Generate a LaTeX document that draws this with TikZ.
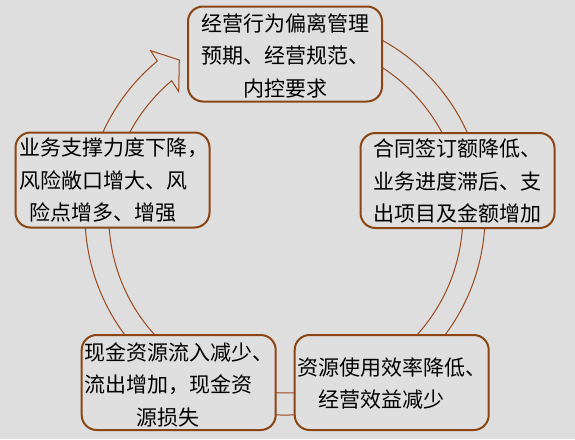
\documentclass[tikz,border=0pt]{standalone}
\usepackage{fontspec}
\newfontfamily\cjkfont{Noto Sans CJK SC}
\usetikzlibrary{calc}
\definecolor{bg}{HTML}{DEDEDE}
\definecolor{boxfill}{HTML}{DFDFDF}
\definecolor{boxbrown}{HTML}{8B4513}
\definecolor{bandbrown}{HTML}{9A4A1C}
\begin{document}
\begin{tikzpicture}[x=1pt,y=-1pt,
  box/.style={draw=boxbrown, line width=2pt, fill=boxfill, rounded corners=15pt,
    minimum width=194pt, minimum height=95pt, inner sep=0pt},
  txt/.style={font=\cjkfont\fontsize{21}{32.5}\selectfont, align=center, inner sep=0pt, text=black},
  band/.style={draw=bandbrown, line width=1pt, fill=bg, line join=miter}]
\fill[bg] (0,0) rectangle (575,439);
\useasboundingbox (0,0) rectangle (575,439);
\coordinate (c) at (285,215);
\coordinate (ob) at (150.7,50.7);
\coordinate (tt) at (179.3,60);
\coordinate (tb) at (178.7,91.7);
\coordinate (ie) at (171.7,80.7);
% circular block arrow
\draw[band] ($(c)+(250:200)$) arc[start angle=250, end angle=590.3, radius=200]
  -- (ob) -- (tt) -- (tb) -- (ie)
  arc[start angle=589.85, end angle=250, radius=177] -- cycle;
% boxes
\node[box] (b1) at (285,54) {};
\node[box] (b2) at (457.5,180.5) {};
\node[box] (b3) at (391.7,382.5) {};
\node[box] (b4) at (178.7,382.5) {};
\node[box] (b5) at (112.5,180) {};
% texts
\node[txt] (t1) at (285,55.5) {经营行为偏离管理\\预期、经营规范、\\内控要求};
\node[txt] (t2) at (457,181.5) {合同签订额降低、\\业务进度滞后、支\\出项目及金额增加};
\node[txt] (t3) at (381,383.5) {资源使用效率降低\rlap{、}\\经营效益减少};
\node[txt] (t4) at (168,384.5) {现金资源流入减少\rlap{、}\\流出增加，现金资\\源损失};
\node[txt] (t5) at (103,180.5) {业务支撑力度下降\rlap{，}\\风险敞口增大、风\\险点增多、增强};
\end{tikzpicture}
\end{document}
